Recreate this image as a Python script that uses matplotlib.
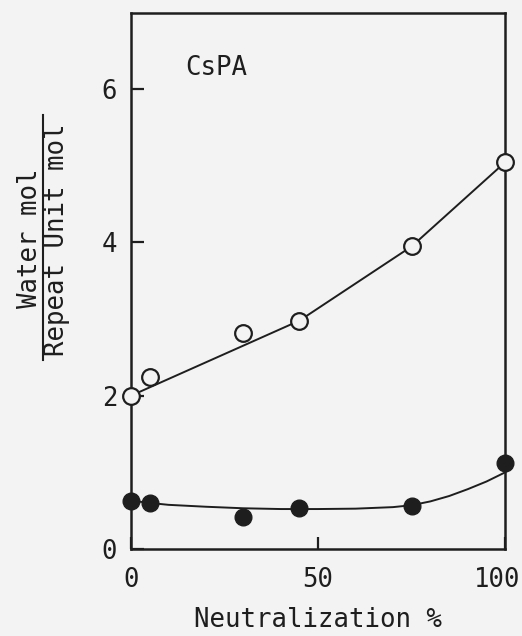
import matplotlib.pyplot as plt
import matplotlib.transforms as mtransforms
from matplotlib.lines import Line2D

# open circles (upper series)
open_x = [0, 5, 30, 45, 75, 100]
open_y = [2.0, 2.24, 2.82, 2.98, 3.96, 5.05]
# straight guide line through the open circles
open_line_x = [0, 45, 75, 100]
open_line_y = [2.0, 2.98, 3.95, 5.05]

# filled circles (lower series)
fill_x = [0, 5, 30, 45, 75, 100]
fill_y = [0.63, 0.6, 0.42, 0.53, 0.56, 1.12]
# smooth curve drawn through the filled circles
fill_line_x = [0, 5, 10, 20, 30, 40, 50, 60, 70, 75, 80, 85, 90, 95, 100]
fill_line_y = [0.63, 0.6, 0.575, 0.55, 0.53, 0.52, 0.52, 0.525, 0.545, 0.57,
               0.62, 0.69, 0.78, 0.88, 1.0]

x_ticks = [0, 50, 100]
y_ticks = [0, 2, 4, 6]

ink = '#1e1e1e'
bg = '#f3f3f3'
font = ['DejaVu Sans Mono']
fs = 18.5

plt.rcParams['font.family'] = font

fig = plt.figure(figsize=(5.22, 6.36), dpi=100, facecolor=bg)
ax = fig.add_axes([0.251, 0.137, 0.717, 0.843], facecolor=bg)

ax.plot(open_line_x, open_line_y, color=ink, lw=1.4, clip_on=False)
ax.plot(open_x, open_y, 'o', ms=12, mfc=bg, mec=ink, mew=1.6, clip_on=False, zorder=3)

ax.plot(fill_line_x, fill_line_y, color=ink, lw=1.4, clip_on=False)
ax.plot(fill_x, fill_y, 'o', ms=12, mfc=ink, mec=ink, clip_on=False, zorder=3)

ax.set_xlim(0, 100)
ax.set_ylim(0, 7)
ax.set_xticks(x_ticks)
ax.set_yticks(y_ticks)
ax.tick_params(direction='in', length=9, width=1.6, colors=ink, labelsize=fs)
ax.tick_params(axis='x', pad=13)
ax.tick_params(axis='y', pad=10)
for s in ax.spines.values():
    s.set_linewidth(1.8)
    s.set_color(ink)

# the "100" label sits a little left of its tick in the original
lbl = ax.get_xticklabels()[-1]
lbl.set_transform(lbl.get_transform() +
                  mtransforms.ScaledTranslation(-8 / 100, 0, fig.dpi_scale_trans))

ax.text(0.144, 0.897, 'CsPA', transform=ax.transAxes, fontsize=fs,
        color=ink, va='center', ha='left')

ax.set_xlabel('Neutralization %', fontsize=fs, color=ink, labelpad=10)

# y label drawn as a fraction
fig.text(37 / 522, 0.626, 'Water mol', rotation=90, rotation_mode='anchor',
         fontsize=fs, color=ink, ha='center', va='baseline')
fig.text(64 / 522, 0.623, 'Repeat Unit mol', rotation=90, rotation_mode='anchor',
         fontsize=fs, color=ink, ha='center', va='baseline')
fig.add_artist(Line2D([0.0824, 0.0824], [0.434, 0.819], color=ink, lw=1.5,
                      transform=fig.transFigure))

fig.savefig('out.png', dpi=100, facecolor=bg)
